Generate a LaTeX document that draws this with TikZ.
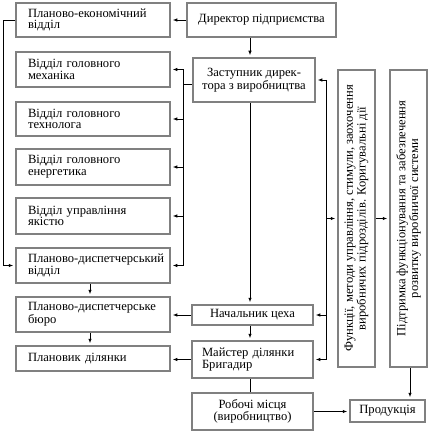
\documentclass[tikz,border=0pt]{standalone}
\usepackage{fontspec}
\setmainfont{Liberation Serif}
\usetikzlibrary{arrows.meta}
\definecolor{boxgray}{RGB}{128,128,128}
\newcommand\fs{\fontsize{12.6}{11.7}\selectfont}
\tikzset{
  box/.style={draw=boxgray, line width=2.5pt, inner sep=0pt, font=\fs, fill=white},
  lbox/.style={box, text width=130pt, inner xsep=12pt, align=left, minimum width=154pt},
  cbox/.style={box, align=center},
  conn/.style={line width=0.8pt, draw=black},
  arr/.style={conn, -{Latex[length=4.5pt,width=3.5pt]}, shorten >=1.5pt}
}
\begin{document}
\begin{tikzpicture}[x=1pt,y=-1pt]
\useasboundingbox (0,0) rectangle (431,433);
% left column
\node[lbox, minimum height=34pt] (pe) at (93,20) {Планово-економічний\\відділ};
\node[lbox, minimum height=35pt] (mech) at (93,69.5) {Відділ головного\\механіка};
\node[lbox, minimum height=34pt] (tech) at (93,119) {Відділ головного\\технолога};
\node[lbox, minimum height=36pt] (energ) at (93,167) {Відділ головного\\енергетика};
\node[lbox, minimum height=36pt] (yak) at (93,216) {Відділ управління\\якістю};
\node[lbox, minimum height=35pt] (pdv) at (93,265.5) {\mbox{Планово-диспетчерський}\\відділ};
\node[lbox, minimum height=35pt] (pdb) at (93,314.5) {\mbox{Планово-диспетчерське}\\бюро};
\node[lbox, minimum height=25pt] (plan) at (93,358.5) {Плановик ділянки};
% middle column
\node[cbox, minimum width=149pt, minimum height=34pt] (dir) at (261.5,20) {Директор підприємства};
\node[cbox, minimum width=122pt, minimum height=44pt] (zast) at (254,80) {Заступник дирек-\\тора з виробництва};
\node[cbox, minimum width=121pt, minimum height=20pt] (nach) at (252.5,315) {Начальник цеха};
\node[box, text width=101pt, inner xsep=10pt, align=left, minimum height=37pt] (maist) at (252.5,359.5) {Майстер ділянки\\Бригадир};
\node[cbox, minimum width=121pt, minimum height=37pt] (rob) at (252.5,411.5) {Робочі місця\\(виробництво)};
% right column
\node[cbox, minimum width=75pt, minimum height=22pt] (prod) at (387.5,411) {Продукція};
\node[cbox, rotate=90, minimum width=297pt, minimum height=37pt] (v1) at (356.5,218.5) {Функції, методи управління, стимули, заохочення\\виробничих підрозділів. Коригувальні дії};
\node[cbox, rotate=90, minimum width=297pt, minimum height=37pt] (v2) at (408.5,218.5) {Підтримка функціонування та забезпечення\\розвитку виробничої системи};
% bus coordinates
\coordinate (lb) at (3,0);
\coordinate (mb) at (183,0);
\coordinate (rb) at (326,0);
\coordinate (xa) at (250,0);
\coordinate (xb) at (90,0);
\coordinate (px) at (410,0);
% connectors
\draw[arr] (dir.west) -- (pe.east);
\draw[arr] (dir.south -| xa) -- (zast.north -| xa);
\draw[arr] (pe.west) -| (lb |- pdv.west) -- (pdv.west);
\draw[conn] ([yshift=-4pt]zast.west) -- ([yshift=-4pt]zast.west -| mb);
\draw[conn] (mech.east -| mb) -- (pdv.east -| mb);
\foreach \n in {mech,tech,energ,yak,pdv} \draw[arr] (\n.east -| mb) -- (\n.east);
\draw[arr] (zast.south -| xa) -- (nach.north -| xa);
\draw[arr] (nach.south -| xa) -- (maist.north -| xa);
\draw[conn] (maist.south -| xa) -- (rob.north -| xa);
\draw[arr] (pdv.south -| xb) -- (pdb.north -| xb);
\draw[arr] (pdb.south -| xb) -- (plan.north -| xb);
\draw[arr] (nach.west) -- (nach.west -| pdb.east);
\draw[arr] (maist.west) -- (maist.west -| plan.east);
\draw[conn] (zast.east -| rb) -- (maist.east -| rb);
\foreach \n in {zast,nach,maist} \draw[arr] (\n.east -| rb) -- (\n.east);
\draw[arr] (v1.north -| rb) -- (v1.north);
\draw[arr] (v1.south) -- (v2.north);
\draw[arr] (v2.west -| px) -- (prod.north -| px);
\draw[arr] (rob.east) -- (rob.east -| prod.west);
\end{tikzpicture}
\end{document}
